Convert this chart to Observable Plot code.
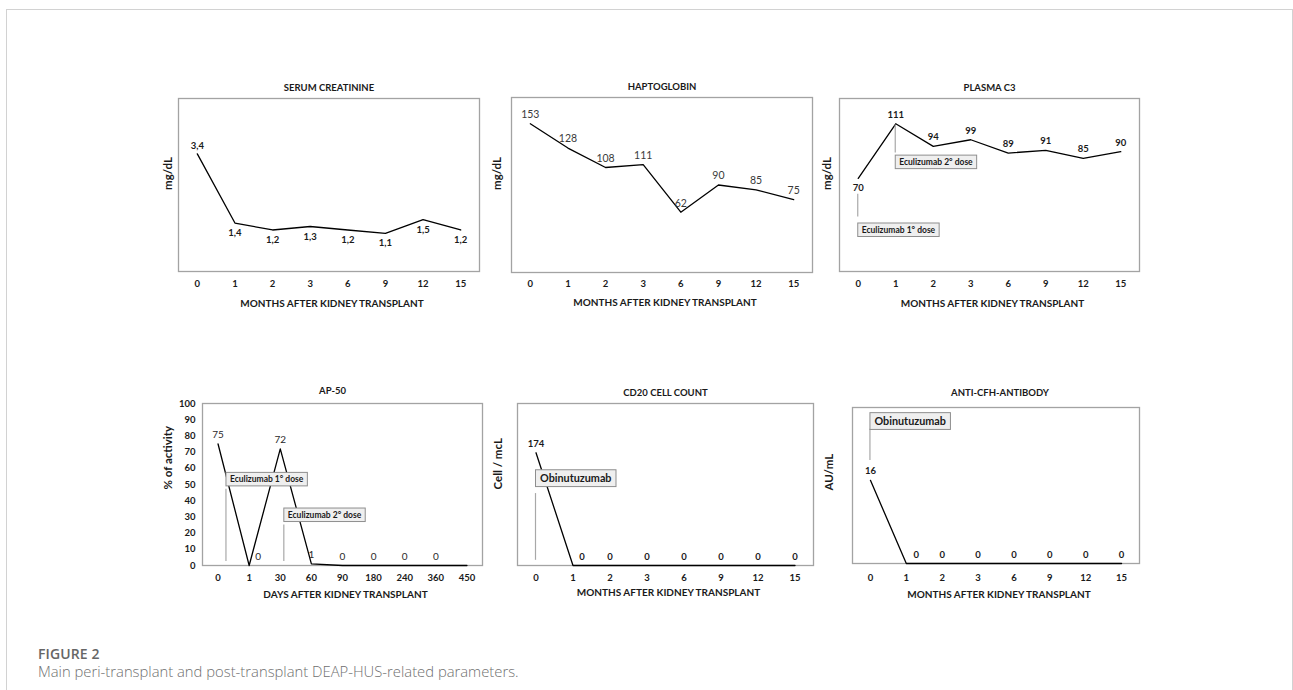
<!DOCTYPE html>
<html>
<head>
<meta charset="utf-8">
<script src="https://cdn.jsdelivr.net/npm/d3@7"></script>
<script src="https://cdn.jsdelivr.net/npm/@observablehq/plot@0.6"></script>
<style>
  html, body { margin: 0; padding: 0; background: #fff; }
  body { width: 1293px; height: 690px; overflow: hidden; position: relative; font-family: Lato, sans-serif; }
  #frame { position: absolute; left: 6px; top: 9px; width: 1287px; height: 720px; border: 1.5px solid #d2d2d2; border-bottom: none; box-sizing: border-box; }
  .panel { position: absolute; }
  #cap1 { position: absolute; left: 38px; top: 647px; font: 600 14px/13px "Open Sans", sans-serif; color: #666; letter-spacing: 0.1px; }
  #cap2 { position: absolute; left: 38px; top: 664px; font: 300 14.8px/15px "Open Sans", sans-serif; color: #6f6f6f; }
</style>
</head>
<body>
<div id="frame"></div>
<div id="charts"></div>
<div id="cap1">FIGURE 2</div>
<div id="cap2">Main peri-transplant and post-transplant DEAP-HUS-related parameters.</div>
<script>
// ---------- data ----------
const months = ["0", "1", "2", "3", "6", "9", "12", "15"];
const days = ["0", "1", "30", "60", "90", "180", "240", "360", "450"];

const creatinine = [3.4, 1.4, 1.2, 1.3, 1.2, 1.1, 1.5, 1.2];
const haptoglobin = [153, 128, 108, 111, 62, 90, 85, 75];
const plasmaC3 = [70, 111, 94, 99, 89, 91, 85, 90];
const ap50 = [75, 0, 72, 1, 0, 0, 0, 0, 0];
const cd20 = [174, 0, 0, 0, 0, 0, 0, 0];
const antiCfh = [16, 0, 0, 0, 0, 0, 0, 0];

const panelTitles = ["SERUM CREATININE", "HAPTOGLOBIN", "PLASMA C3", "AP-50", "CD20 CELL COUNT", "ANTI-CFH-ANTIBODY"];
const xTitles = ["MONTHS AFTER KIDNEY TRANSPLANT", "DAYS AFTER KIDNEY TRANSPLANT"];
const yTitles = ["mg/dL", "% of activity", "Cell / mcL", "AU/mL"];
const apTicks = [0, 10, 20, 30, 40, 50, 60, 70, 80, 90, 100];

// dose annotations (x in category index, y in data units)
const c3Doses = [
  {text: "Eculizumab 1° dose", x: 0, y1: 58, y2: 41, yLabel: 31},
  {text: "Eculizumab 2° dose", x: 1, y1: 110, y2: 89, yLabel: 82}
];
const apDoses = [
  {text: "Eculizumab 1° dose", x: 0.27, y1: 2.5, y2: 47, yLabel: 53},
  {text: "Eculizumab 2° dose", x: 2.13, y1: 2.5, y2: 25, yLabel: 31}
];
const cd20Dose = [{text: "Obinutuzumab", x: 0, y1: 8, y2: 111, yLabel: 134}];
const cfhDose = [{text: "Obinutuzumab", x: 0, y1: 19.8, y2: 25.8, yLabel: 27.3}];

// ---------- helpers ----------
const comma = v => String(v).replace(".", ",");

function annotationMark(items, fontSize, lineColor) {
  return (index, scales) => {
    const g = d3.create("svg:g");
    const ctx = document.createElement("canvas").getContext("2d");
    ctx.font = `bold ${fontSize}px Lato`;
    const pad = fontSize > 10 ? 4.5 : 4;
    for (const a of items) {
      const x = scales.x(a.x);
      g.append("line")
        .attr("x1", x).attr("x2", x)
        .attr("y1", scales.y(a.y1)).attr("y2", scales.y(a.y2))
        .attr("stroke", lineColor).attr("stroke-width", 1.2);
      const w = ctx.measureText(a.text).width + 2 * pad;
      const h = fontSize + (fontSize > 10 ? 6 : 5);
      const yc = scales.y(a.yLabel);
      g.append("rect")
        .attr("x", x).attr("y", yc - h / 2)
        .attr("width", w).attr("height", h)
        .attr("fill", "#efefef").attr("stroke", "#8e8e8e").attr("stroke-width", 1);
      g.append("text")
        .attr("x", x + pad).attr("y", yc).attr("dy", "0.35em")
        .attr("text-anchor", "start")
        .attr("font-family", "Lato").attr("font-size", fontSize)
        .attr("font-weight", "bold").attr("fill", "#1a1a1a")
        .text(a.text);
    }
    return g.node();
  };
}

function panel(cfg) {
  const [bl, bt, br, bb] = cfg.box;
  const ml = 48, mt = 30, mr = 12, mb = 48;
  const width = (br - bl) + ml + mr;
  const height = (bb - bt) + mt + mb;
  const n = cfg.cats.length;
  const data = cfg.values.map((v, i) => ({i, v}));

  const labelMarks = data
    .filter(d => !(cfg.noLabel || []).includes(d.i))
    .map(d => {
      const below = (cfg.below || []).includes(d.i);
      const dy = below ? cfg.belowDy : cfg.aboveDy;
      const dx = (cfg.shift && cfg.shift[d.i]) || 0;
      return Plot.text([d], {
        x: "i", y: "v", text: d => (cfg.fmt || String)(d.v),
        dx, dy,
        fontSize: cfg.labelSize || 9.5,
        fontWeight: cfg.labelWeight || "bold",
        fill: cfg.labelColor || "#1a1a1a"
      });
    });

  const marks = [
    Plot.frame({stroke: "#a3a3a3", strokeWidth: 1.3}),
    Plot.axisX(d3.range(n), {
      label: null,
      tickFormat: i => cfg.cats[i], tickSize: 0, tickPadding: cfg.tickPad,
      fontSize: 9.5, fontWeight: "bold", fill: "#1a1a1a"
    })
  ];
  if (cfg.yTicks) {
    marks.push(Plot.axisY(cfg.yTicks, {
      label: null,
      tickSize: 0, tickPadding: 7, fontSize: 9.5, fontWeight: "bold", fill: "#1a1a1a"
    }));
  }
  marks.push(
    Plot.line(data, {x: "i", y: "v", stroke: "#000", strokeWidth: 1.3}),
    ...labelMarks,
    Plot.text([cfg.title], {frameAnchor: "top", dy: cfg.titleDy, dx: cfg.titleDx || 0,
      fontSize: 9.5, fontWeight: "bold", fill: "#1a1a1a"}),
    Plot.text([cfg.xTitle], {frameAnchor: "bottom", dy: cfg.xTitleDy, dx: 3,
      fontSize: 10, fontWeight: "bold", fill: "#1a1a1a"}),
    Plot.text([cfg.yTitle], {frameAnchor: "left", rotate: -90, dx: cfg.yTitleDx, dy: 5,
      fontSize: 11.5, fontWeight: "bold", fill: "#1a1a1a"})
  );
  if (cfg.annotations) marks.push(annotationMark(cfg.annotations, cfg.annSize, cfg.annLine || "#a8a8a8"));

  const chart = Plot.plot({
    width, height,
    marginLeft: ml, marginRight: mr, marginTop: mt, marginBottom: mb,
    x: {type: "linear", domain: [-0.5, n - 0.5], axis: null},
    y: {domain: [0, cfg.ymax], axis: null},
    style: {fontFamily: "Lato, sans-serif", overflow: "visible", background: "transparent"},
    marks
  });
  const wrap = document.createElement("div");
  wrap.className = "panel";
  wrap.style.left = (bl - ml) + "px";
  wrap.style.top = (bt - mt) + "px";
  wrap.appendChild(chart);
  document.getElementById("charts").appendChild(wrap);
}

// ---------- panels ----------
panel({box: [178, 98, 479, 271], cats: months, values: creatinine, ymax: 5,
  title: panelTitles[0], xTitle: xTitles[0], yTitle: yTitles[0],
  fmt: comma, below: [1, 2, 3, 4, 5, 6, 7], aboveDy: -8, belowDy: 10,
  titleDy: -14, tickPad: 9, xTitleDy: 35, yTitleDx: -10});

panel({box: [511, 97, 812, 272], cats: months, values: haptoglobin, ymax: 180,
  title: panelTitles[1], xTitle: xTitles[0], yTitle: yTitles[0],
  aboveDy: -9, labelWeight: "normal", labelSize: 10.5, labelColor: "#3a3a3a",
  titleDy: -14, tickPad: 8, xTitleDy: 33, yTitleDx: -14});

panel({box: [839, 98, 1139, 271], cats: months, values: plasmaC3, ymax: 130,
  title: panelTitles[2], xTitle: xTitles[0], yTitle: yTitles[0],
  below: [0], aboveDy: -9, belowDy: 10,
  titleDy: -14, tickPad: 9, xTitleDy: 35, yTitleDx: -12,
  annotations: c3Doses, annSize: 8.5});

panel({box: [202, 403, 482, 565], cats: days, values: ap50, ymax: 100, yTicks: apTicks,
  title: panelTitles[3], xTitle: xTitles[1], yTitle: yTitles[1],
  aboveDy: -9, shift: {1: 9}, noLabel: [8], labelWeight: "normal", labelSize: 10, labelColor: "#2a2a2a",
  titleDy: -16, titleDx: -10, tickPad: 9, xTitleDy: 32, yTitleDx: -34,
  annotations: apDoses, annSize: 8.5});

panel({box: [517, 403, 813, 565], cats: months, values: cd20, ymax: 250,
  title: panelTitles[4], xTitle: xTitles[0], yTitle: yTitles[2],
  aboveDy: -9, shift: {1: 9},
  titleDy: -14, tickPad: 9, xTitleDy: 30, yTitleDx: -19,
  annotations: cd20Dose, annSize: 10.8});

panel({box: [852, 407, 1139, 563], cats: months, values: antiCfh, ymax: 30,
  title: panelTitles[5], xTitle: xTitles[0], yTitle: yTitles[3],
  aboveDy: -9, shift: {1: 10},
  titleDy: -18, titleDx: 4, tickPad: 11, xTitleDy: 34, yTitleDx: -23,
  annotations: cfhDose, annSize: 10.8});
</script>
</body>
</html>
